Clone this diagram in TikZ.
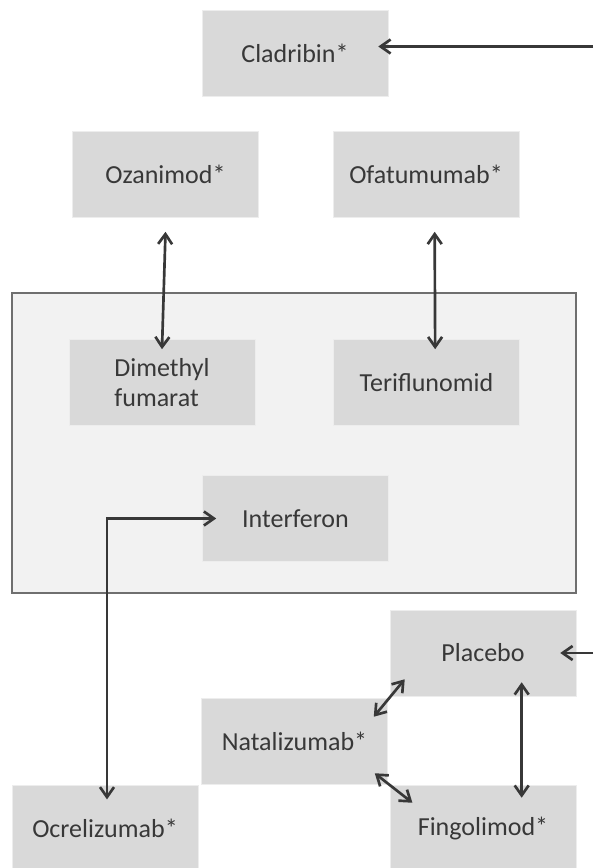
\documentclass[tikz,border=0pt]{standalone}
\usepackage{fontspec}
\setmainfont{Carlito}
\usetikzlibrary{arrows.meta,calc}
\definecolor{BoxGray}{HTML}{D9D9D9}
\definecolor{PanelGray}{HTML}{F2F2F2}
\definecolor{EdgeGray}{HTML}{6F6F6F}
\definecolor{InkGray}{HTML}{383838}

\begin{document}
\begin{tikzpicture}[x=0.75pt,y=-0.75pt,>={Straight Barb[length=7.5pt,width=10.5pt]},
    drugbox/.style={fill=BoxGray,draw=white!93!black,line width=0.4pt,
      minimum width=139.5pt,minimum height=64.5pt,inner sep=0pt,
      text=InkGray,font=\fontsize{19.5}{23}\selectfont},
    link/.style={draw=InkGray,line width=2pt}]
  \useasboundingbox (0,0) rectangle (593,868);
  \clip (0,0) rectangle (593,868);
  \fill[white] (0,0) rectangle (593,868);
  % grey panel round the first-line drugs
  \draw[fill=PanelGray,draw=EdgeGray,line width=0.9pt] (12,293) rectangle (576,593);

  \node[drugbox] (clad)  at (295,53.5)   {Cladribin*};
  \node[drugbox] (oza)   at (165.5,174.5) {Ozanimod*};
  \node[drugbox] (ofa)   at (426,174.5)  {Ofatumumab*};
  \node[drugbox,align=left] (dim) at (162,382.5) {Dimethyl\\fumarat};
  \node[drugbox] (teri)  at (426.5,382.5) {Teriflunomid};
  \node[drugbox] (inter) at (295.5,518.5) {Interferon};
  \node[drugbox] (plac)  at (483,653)    {Placebo};
  \node[drugbox] (nata)  at (294.5,741)  {Natalizumab*};
  \node[drugbox] (fingo) at (483,828)    {Fingolimod*};
  \node[drugbox] (ocre)  at (105,828)    {Ocrelizumab*};

  \coordinate (cladsrc) at (593,46.5);
  \coordinate (placsrc) at (593,653);

  \draw[link,->] (cladsrc) -- ([xshift=-7.5pt]cladsrc -| clad.east);
  \draw[link,->] (placsrc) -- ([xshift=-12pt]placsrc -| plac.east);
  \draw[link,<->] ([yshift=-10.5pt]oza.south) -- ([yshift=-7.5pt]dim.north);
  \draw[link,<->] ([xshift=6.5pt,yshift=-10.5pt]ofa.south) -- ([xshift=6.5pt,yshift=-7.5pt]teri.north);
  \draw[link,<->] ([xshift=10.5pt]inter.west) -| ([xshift=1.5pt,yshift=-11pt]ocre.north);
  \draw[link,<->] ([shift={(11.25pt,12.75pt)}]plac.south west) -- ([shift={(-10.5pt,-14.25pt)}]nata.north east);
  \draw[link,<->] ([shift={(-9.75pt,8.25pt)}]nata.south east) -- ([shift={(17pt,-13.5pt)}]fingo.north west);
  \draw[link,<->] ([xshift=29pt,yshift=10.5pt]plac.south) -- ([xshift=29pt,yshift=-9.75pt]fingo.north);
\end{tikzpicture}
\end{document}
